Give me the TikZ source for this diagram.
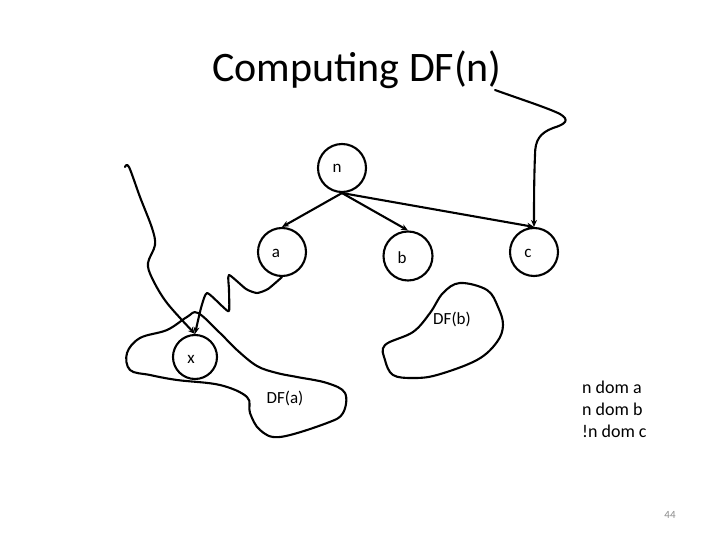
\documentclass[tikz,border=0pt]{standalone}
\usepackage{fontspec}
\setmainfont{Carlito}
\usetikzlibrary{arrows.meta}
\begin{document}
\begin{tikzpicture}[x=1pt,y=-1pt,
  ink/.style={line width=2.1pt,line cap=round,line join=round},
  vtx/.style={ink,draw,circle,minimum size=48pt,inner sep=0pt},
  lbl/.style={font=\fontsize{17}{20}\selectfont},
  arr/.style={ink,-{Stealth[length=7pt,width=6pt]}}]
\useasboundingbox[fill=white] (0,0) rectangle (720,540);
% title
\node[font=\fontsize{42}{48}\selectfont,anchor=base] (title) at (357,82) {Computing DF(n)};
% vertices
\node[vtx,label={[lbl,xshift=-5pt]center:n}] (n) at (342,168) {};
\node[vtx,label={[lbl,xshift=-6pt,yshift=-1pt]center:a}] (a) at (282,252) {};
\node[vtx,minimum size=49pt,label={[lbl,xshift=-6pt,yshift=-2pt]center:b}] (b) at (408,256) {};
\node[vtx,label={[lbl,xshift=-6pt,yshift=-1pt]center:c}] (c) at (534,252) {};
\node[vtx,minimum size=44pt,label={[lbl,xshift=-4pt,yshift=-2pt]center:x}] (x) at (195,357) {};
% tree edges
\draw[arr] (n.south) -- (a.north);
\draw[arr] (n.south) -- (b.north);
\draw[arr] (n.south) -- (c.north);
% curve from title to c
\coordinate (t0) at (495,90);
\draw[arr] (t0) .. controls (520,99) and (548,108) .. (560,114)
  .. controls (570,120) and (566,124) .. (553,128)
  .. controls (540,133) and (535,140) .. (535,155)
  .. controls (534,180) and (534,205) .. (c.north);
% curve from left to x
\coordinate (l0) at (125,167);
\draw[arr] plot[smooth,tension=0.55] coordinates {(l0) (129,167) (140,197) (152,228) (155,245) (148,263) (152,278) (167,303) (x.north)};
% zigzag from a to x
\draw[arr] plot[smooth,tension=0.35] coordinates {(a.south) (268,289) (257,293) (246,289) (229,275) (229,290) (229,311) (222,306) (207,293) (201,308) (x.north)};
% DF(a) region
\draw[ink] plot[smooth cycle,tension=0.6] coordinates {(198,313) (220,333) (237,350) (257,366) (277,373) (297,377) (327,383) (345,393) (343,413) (327,423) (280,437) (260,430) (250,413) (247,397) (220,385) (177,380) (150,375) (130,370) (127,353) (140,338) (167,330) (187,317)};
\node[lbl] (dfa) at (285,398) {DF(a)};
% DF(b) region
\draw[ink] plot[smooth cycle,tension=0.6] coordinates {(460,283) (487,290) (498,307) (503,325) (497,342) (477,360) (437,375) (413,378) (393,375) (385,360) (385,345) (413,332) (430,313) (443,293)};
\node[lbl] (dfb) at (452,319) {DF(b)};
% dominance text
\node[anchor=north west,align=left,inner sep=0pt,font=\fontsize{18}{21.7}\selectfont] (dom) at (582,381) {n dom a\\n dom b\\!n dom c};
% page number
\node[font=\fontsize{11}{13}\selectfont,text=black!45] (pg) at (670,515) {44};
\end{tikzpicture}
\end{document}
